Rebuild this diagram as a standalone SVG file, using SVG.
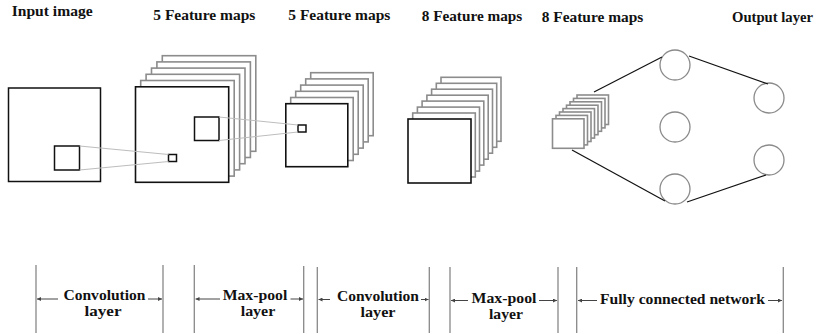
<svg xmlns="http://www.w3.org/2000/svg" width="817" height="334" viewBox="0 0 817 334">
<defs>
<style>
.t{font-family:"Liberation Serif","Times New Roman",serif;font-weight:bold;font-size:14.5px;fill:#111}
.b{font-family:"Liberation Serif","Times New Roman",serif;font-weight:bold;font-size:15px;fill:#111;text-anchor:middle}
.back{fill:#fff;stroke:#8c8c8c;stroke-width:1.6}
.front{fill:#fff;stroke:#111;stroke-width:1.6}
.sq{fill:#fff;stroke:#111;stroke-width:1.5}
.proj{stroke:#bdbdbd;stroke-width:1;fill:none}
.fc{stroke:#111;stroke-width:1.2;fill:none}
.nd{fill:#fff;stroke:#8a8a8a;stroke-width:1.3}
.vl{stroke:#888;stroke-width:1.3}
.ar{stroke:#444;stroke-width:1;marker-end:url(#ah)}
</style>
<marker id="ah" viewBox="0 0 6 6" refX="6" refY="3" markerWidth="4" markerHeight="4" orient="auto" markerUnits="userSpaceOnUse">
<path d="M0,0 L6,3 L0,6 z" fill="#444"/>
</marker>
</defs>
<rect width="817" height="334" fill="#fff"/>

<g id="titles">
<text class="t" x="11.7" y="16" textLength="81" lengthAdjust="spacingAndGlyphs">Input image</text>
<text class="t" x="153.3" y="20" textLength="102" lengthAdjust="spacingAndGlyphs">5 Feature maps</text>
<text class="t" x="288.3" y="20" textLength="102" lengthAdjust="spacingAndGlyphs">5 Feature maps</text>
<text class="t" x="421.7" y="21" textLength="100.6" lengthAdjust="spacingAndGlyphs">8 Feature maps</text>
<text class="t" x="541.7" y="22" textLength="101.6" lengthAdjust="spacingAndGlyphs">8 Feature maps</text>
<text class="t" x="732" y="22" textLength="81" lengthAdjust="spacingAndGlyphs">Output layer</text>
</g>

<g id="input-image">
<rect class="sq" x="8.5" y="88" width="92" height="93.5"/>
<rect class="sq" x="54.5" y="146" width="25" height="24"/>
</g>

<g id="feature-maps-1">
<rect class="back" x="162.3" y="55.7" width="93.5" height="95.6"/>
<rect class="back" x="156.9" y="61.9" width="93.5" height="95.6"/>
<rect class="back" x="151.5" y="68.1" width="93.5" height="95.6"/>
<rect class="back" x="146.1" y="74.3" width="93.5" height="95.6"/>
<rect class="back" x="140.7" y="80.5" width="93.5" height="95.6"/>
<rect class="front" x="135.5" y="86.8" width="93.2" height="95.5" stroke-width="2"/>
<rect class="sq" x="194.5" y="117" width="24.5" height="23.5"/>
<rect class="sq" x="168.5" y="154.5" width="8" height="7"/>
</g>

<g id="feature-maps-2">
<rect class="back" x="310.7" y="72.7" width="62.5" height="63"/>
<rect class="back" x="305.7" y="78.9" width="62.5" height="63"/>
<rect class="back" x="300.7" y="85.1" width="62.5" height="63"/>
<rect class="back" x="295.7" y="91.3" width="62.5" height="63"/>
<rect class="back" x="290.7" y="97.5" width="62.5" height="63"/>
<rect class="front" x="285.8" y="103.7" width="62" height="63"/>
<rect class="sq" x="298" y="125" width="8" height="7"/>
</g>

<g id="feature-maps-3">
<rect class="back" x="441" y="77.3" width="60" height="64"/>
<rect class="back" x="436.3" y="83.3" width="60.4" height="64"/>
<rect class="back" x="431.6" y="89.2" width="60.9" height="64"/>
<rect class="back" x="426.9" y="95.2" width="61.3" height="64"/>
<rect class="back" x="422.1" y="101.1" width="61.7" height="64"/>
<rect class="back" x="417.4" y="107.1" width="62.1" height="64"/>
<rect class="back" x="412.7" y="113" width="62.6" height="64"/>
<rect class="front" x="408" y="119" width="63" height="64"/>
</g>

<g id="feature-maps-4">
<rect class="back" x="577" y="95" width="31.5" height="29.5"/>
<rect class="back" x="573.5" y="98.4" width="31.5" height="29.5"/>
<rect class="back" x="570" y="101.8" width="31.5" height="29.5"/>
<rect class="back" x="566.5" y="105.2" width="31.5" height="29.5"/>
<rect class="back" x="563" y="108.6" width="31.5" height="29.5"/>
<rect class="back" x="559.5" y="112" width="31.5" height="29.5"/>
<rect class="back" x="556" y="115.4" width="31.5" height="29.5"/>
<rect class="back" x="552.5" y="118.8" width="31.5" height="29.5"/>
</g>

<g id="hidden-nodes">
<circle class="nd" cx="675" cy="65" r="15"/>
<circle class="nd" cx="675" cy="127" r="15"/>
<circle class="nd" cx="675" cy="189" r="15"/>
</g>
<g id="output-nodes">
<circle class="nd" cx="769" cy="98" r="15"/>
<circle class="nd" cx="769" cy="160" r="15"/>
</g>

<g id="connectors">
<line class="proj" x1="79.5" y1="146" x2="168.5" y2="154.5"/>
<line class="proj" x1="79.5" y1="170" x2="168.5" y2="161.5"/>
<line class="proj" x1="219" y1="117" x2="298" y2="125"/>
<line class="proj" x1="219" y1="140.5" x2="298" y2="132"/>
<line class="fc" x1="594" y1="92" x2="662" y2="57"/>
<line class="fc" x1="572" y1="150" x2="665" y2="201"/>
<line class="fc" x1="689" y1="56" x2="768" y2="84"/>
<line class="fc" x1="687" y1="202" x2="766" y2="175"/>
</g>

<g id="layer-brackets">
<line class="vl" x1="36" y1="265" x2="36" y2="333"/>
<line class="vl" x1="163" y1="265" x2="163" y2="333"/>
<line class="vl" x1="194.3" y1="265" x2="194.3" y2="333"/>
<line class="vl" x1="303.7" y1="266" x2="303.7" y2="333"/>
<line class="vl" x1="317.3" y1="267" x2="317.3" y2="333"/>
<line class="vl" x1="429.3" y1="267" x2="429.3" y2="333"/>
<line class="vl" x1="450" y1="267" x2="450" y2="333"/>
<line class="vl" x1="558" y1="267" x2="558" y2="333"/>
<line class="vl" x1="576.7" y1="267" x2="576.7" y2="333"/>
<line class="vl" x1="783.3" y1="267" x2="783.3" y2="333"/>
<line class="ar" x1="58" y1="299" x2="37" y2="299"/>
<line class="ar" x1="148" y1="299" x2="162" y2="299"/>
<line class="ar" x1="220" y1="299" x2="195.5" y2="299"/>
<line class="ar" x1="290.5" y1="299" x2="303" y2="299"/>
<line class="ar" x1="330" y1="299.5" x2="318.5" y2="299.5"/>
<line class="ar" x1="421" y1="299.5" x2="428.5" y2="299.5"/>
<line class="ar" x1="468" y1="300.5" x2="451" y2="300.5"/>
<line class="ar" x1="539" y1="300.5" x2="557" y2="300.5"/>
<line class="ar" x1="597" y1="300.5" x2="578" y2="300.5"/>
<line class="ar" x1="768" y1="300.5" x2="782" y2="300.5"/>
</g>

<g id="layer-labels">
<text class="b" x="104.5" y="300" textLength="82" lengthAdjust="spacingAndGlyphs">Convolution</text>
<text class="b" x="103" y="316" textLength="37" lengthAdjust="spacingAndGlyphs">layer</text>
<text class="b" x="255" y="300" textLength="64.6" lengthAdjust="spacingAndGlyphs">Max-pool</text>
<text class="b" x="258" y="316" textLength="34.6" lengthAdjust="spacingAndGlyphs">layer</text>
<text class="b" x="378" y="301" textLength="82" lengthAdjust="spacingAndGlyphs">Convolution</text>
<text class="b" x="378" y="317" textLength="35" lengthAdjust="spacingAndGlyphs">layer</text>
<text class="b" x="504" y="303" textLength="65" lengthAdjust="spacingAndGlyphs">Max-pool</text>
<text class="b" x="506" y="319" textLength="34" lengthAdjust="spacingAndGlyphs">layer</text>
<text class="b" x="682.5" y="304" textLength="165" lengthAdjust="spacingAndGlyphs">Fully connected network</text>
</g>
</svg>
